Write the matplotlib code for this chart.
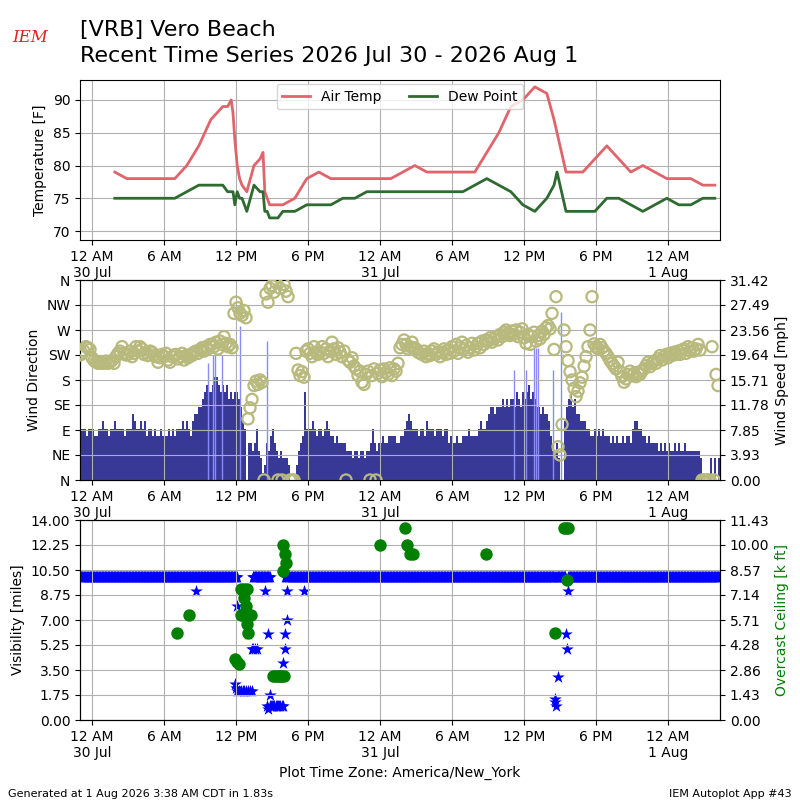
import numpy as np
import pandas as pd
import matplotlib
matplotlib.use('Agg')
import matplotlib.pyplot as plt
import matplotlib.dates as mdates
from matplotlib.ticker import FuncFormatter, FixedLocator, FixedFormatter

base = pd.Timestamp('2026-07-30 00:00')

# hourly-ish observations, hours after midnight 30 Jul
obs_hours = [1.9, 2.9, 3.9, 4.9, 5.9, 6.9, 7.9, 8.9, 9.9, 10.9, 11.3, 11.6, 11.75,
             11.9, 12.1, 12.3, 12.5, 12.9, 13.5, 14.0, 14.25, 14.4, 14.6, 14.8, 15.5,
             15.9, 16.9, 17.9, 18.9, 19.9, 20.9, 21.9, 22.9, 23.9, 24.9, 25.9, 26.9,
             27.9, 28.9, 29.9, 30.9, 31.9, 32.9, 33.9, 34.9, 35.9, 36.9, 37.9, 38.5,
             38.75, 39.5, 39.9, 40.9, 41.9, 42.9, 43.9, 44.9, 45.9, 46.9, 47.9, 48.9,
             49.9, 50.9, 51.9]
air_temp = [79, 78, 78, 78, 78, 78, 80, 83, 87, 89, 89, 90, 88,
            84, 80, 78, 77, 76, 80, 81, 82, 76, 75, 74, 74,
            74, 75, 78, 79, 78, 78, 78, 78, 78, 78, 79, 80,
            79, 79, 79, 79, 79, 82, 85, 89, 90, 92, 91, 87,
            85, 79, 79, 79, 81, 83, 81, 79, 80, 79, 78, 78,
            78, 77, 77]
dew_point = [75, 75, 75, 75, 75, 75, 76, 77, 77, 77, 76, 76, 76,
             74, 76, 75, 75, 73, 77, 76, 76, 73, 73, 72, 72,
             73, 73, 74, 74, 74, 75, 75, 76, 76, 76, 76, 76,
             76, 76, 76, 76, 77, 78, 77, 76, 74, 73, 75, 77,
             79, 73, 73, 73, 73, 75, 75, 74, 73, 74, 75, 74,
             74, 75, 75]

# one-minute wind sampled every 10 minutes, starting 11 PM 29 Jul
wind_knots = [
    7, 7, 7, 6, 7, 7,   7, 6, 6, 7, 7, 8,   7, 7, 6, 7, 7, 8,   7, 7, 7, 7, 6, 7,
    7, 7, 9, 8, 7, 7,   8, 7, 8, 6, 7, 7,   6, 7, 6, 6, 7, 6,   6, 6, 7, 6, 7, 6,
    7, 7, 7, 8, 7, 8,   7, 6, 8, 9, 9, 10,  10, 11, 12, 13, 12, 12,
    13, 14, 14, 13, 12, 13,   12, 13, 11, 12, 11, 12,   12, 11, 10, 8, 7, 0,
    5, 5, 4, 5, 7, 4,   3, 1, 2, 5, 4, 6,   7, 5, 4, 3, 4, 3,   3, 3, 2, 0, 0, 0,
    2, 4, 5, 6, 12, 7,  7, 7, 8, 7, 6, 7,   7, 6, 7, 8, 7, 6,   6, 5, 6, 5, 5, 5,
    5, 4, 4, 4, 3, 4,   4, 3, 4, 4, 3, 4,   4, 5, 7, 5, 4, 5,   5, 6, 5, 5, 6, 6,
    6, 6, 5, 5, 6, 6,   7, 8, 9, 8, 7, 7,   7, 6, 7, 7, 6, 8,   7, 7, 7, 6, 7, 7,
    7, 6, 7, 7, 5, 6,   5, 5, 6, 5, 5, 6,   6, 6, 7, 6, 6, 6,   6, 7, 8, 7, 7, 8,
    9, 10, 10, 9, 10, 10,   10, 11, 10, 11, 10, 11,   11, 10, 12, 11, 10, 12,
    11, 12, 13, 11, 12, 11,   10, 10, 9, 10, 9, 9,   8, 6, 4, 4, 5, 3,
    0, 0, 8, 10, 11, 12,   10, 11, 9, 9, 8, 8,   8, 7, 7, 6, 6, 7,   6, 7, 6, 7, 6, 6,
    6, 5, 6, 5, 6, 5,   5, 6, 5, 6, 6, 5,   7, 8, 8, 7, 7, 6,   6, 5, 6, 5, 5, 5,
    5, 4, 5, 4, 5, 4,   5, 4, 4, 5, 4, 5,   4, 4, 5, 4, 4, 4,   4, 4, 4, 4, 3, 0,
    0, 0, 0, 3, 0, 3,   0, 3]
wind_drct = [
    225, 228, 232, 240, 238, 235,   220, 215, 212, 210, 212, 210,
    210, 214, 210, 212, 215, 210,   222, 228, 232, 240, 228, 225,
    226, 232, 222, 228, 240, 232,   240, 236, 226, 230, 224, 232,
    230, 225, 222, 212, 220, 226,   222, 228, 216, 212, 222, 225,
    226, 218, 222, 228, 216, 224,   220, 226, 224, 230, 232, 228,
    234, 238, 232, 240, 236, 244,   244, 240, 248, 236, 250, 244,
    258, 246, 240, 244, 238, 300,   320, 310, 300, 296, 305, 292,
    110, 130, 145, 170, 178, 172,   180, 176, 0, 335, 320, 345,
    350, 338, 355, 0, 345, 0,       352, 340, 330, 0, 0, 0,
    228, 198, 188, 195, 185, 232,   236, 228, 222, 240, 230, 226,
    230, 240, 228, 236, 222, 232,   248, 236, 226, 238, 230, 222,
    232, 0, 216, 212, 220, 205,     200, 188, 196, 176, 172, 190,
    196, 0, 188, 200, 0, 192,       198, 186, 200, 194, 190, 202,
    188, 200, 196, 210, 238, 244,   252, 244, 236, 240, 248, 238,
    236, 230, 228, 226, 232, 222,   228, 224, 232, 236, 226, 230,
    222, 230, 236, 226, 234, 228,   240, 232, 244, 228, 238, 248,
    236, 242, 230, 238, 246, 234,   240, 246, 238, 250, 244, 252,
    250, 256, 248, 254, 258, 252,   262, 258, 266, 270, 264, 260,
    268, 262, 270, 258, 266, 272,   256, 246, 262, 244, 258, 266,
    250, 260, 254, 268, 262, 274,   278, 272, 300, 235, 330, 60,
    45, 100, 270, 240, 215, 195,    180, 165, 150, 160, 175, 185,
    205, 222, 240, 270, 330, 245,   240, 236, 244, 238, 232, 228,
    222, 215, 210, 205, 200, 212,   195, 186, 176, 182, 190, 196,
    188, 192, 186, 194, 190, 196,   200, 206, 212, 204, 210, 214,
    210, 218, 224, 216, 222, 226,   220, 228, 224, 230, 226, 232,
    226, 234, 236, 228, 240, 232,   238, 232, 236, 244, 234, 0,
    0, 0, 0, 0, 240, 0,             190, 170]

gust_hours = [9.7, 10.1, 10.25, 10.85, 12.3, 14.6, 35.2, 36.2, 36.8, 37.0, 37.2, 38.4, 39.1]
gust_knots = [16, 17, 17, 17, 21, 19, 15, 15, 18, 18, 18, 15, 23]

# periods with visibility reported at 10 miles (start, end hours)
vis10_runs = [(-1.0, 12.1), (13.4, 14.8), (16.1, 38.6), (38.7, 39.5), (39.7, 52.33)]
vis_hours = [8.65, 12.05, 11.95, 12.0, 12.1, 12.25, 12.4, 12.55, 12.7, 12.85, 13.0, 13.15,
             13.3, 13.0, 13.3, 13.45, 13.6, 13.75, 14.4, 14.7, 14.6, 14.7, 14.8, 14.9,
             15.0, 15.1, 15.2, 15.3, 15.4, 15.5, 15.6, 15.7, 15.8, 15.95, 14.8, 15.9,
             16.1, 16.1, 16.25, 16.25, 17.7, 38.6, 38.6, 38.65, 38.8, 39.5, 39.6, 39.7]
vis_miles = [9, 8, 2.5, 2.25, 2.0, 2.0, 2.0, 2.0, 2.0, 2.0, 2.0, 2.0,
             2.0, 6, 5, 5, 5, 5, 9, 6, 1.0, 0.75, 1.0, 1.0,
             1.0, 1.0, 1.0, 1.0, 1.0, 1.0, 1.0, 1.0, 1.0, 1.0, 1.75, 4,
             5, 6, 7, 9, 9, 1.5, 1.25, 1.0, 3, 6, 5, 9]

ceil_hours = [7.05, 8.1, 11.95, 12.1, 12.25, 12.4, 12.65, 12.9, 12.7, 12.8, 12.4, 12.6,
              12.8, 13.0, 13.25, 12.9, 13.0, 15.1, 15.25, 15.4, 15.55, 15.7, 15.85, 16.0,
              15.9, 16.1, 16.2, 15.9, 24.0, 26.1, 26.25, 26.5, 26.75, 32.8, 38.6, 39.3,
              39.5, 39.7, 39.6]
ceil_kft = [5.0, 6.0, 3.5, 3.3, 3.2, 7.5, 7.5, 7.5, 7.0, 6.5, 6.0, 6.0,
            6.0, 6.0, 6.0, 5.5, 5.0, 2.5, 2.5, 2.5, 2.5, 2.5, 2.5, 2.5,
            10.0, 9.5, 9.0, 8.5, 10.0, 11.0, 10.0, 9.5, 9.5, 9.5, 5.0, 11.0,
            11.0, 11.0, 8.0]

dir_labels = ['N', 'NE', 'E', 'SE', 'S', 'SW', 'W', 'NW', 'N']
spd_labels = ['0.00', '3.93', '7.85', '11.78', '15.71', '19.64', '23.56', '27.49', '31.42']
vis_labels = ['0.00', '1.75', '3.50', '5.25', '7.00', '8.75', '10.50', '12.25', '14.00']
ceil_labels = ['0.00', '1.43', '2.86', '4.28', '5.71', '7.14', '8.57', '10.00', '11.43']


def to_time(hours):
    return base + pd.to_timedelta(np.asarray(hours, dtype=float), unit='h')


def time_label(x, pos):
    d = mdates.num2date(x)
    hr = d.hour
    if hr == 0:
        return '12 AM\n%d %s' % (d.day, d.strftime('%b'))
    if hr == 12:
        return '12 PM'
    return '%d %s' % (hr % 12, 'AM' if hr < 12 else 'PM')


def style_time(ax):
    ax.xaxis.set_major_locator(mdates.HourLocator(byhour=[0, 6, 12, 18]))
    ax.xaxis.set_major_formatter(FuncFormatter(time_label))
    ax.set_xlim(to_time(-1.0), to_time(52.33))
    ax.grid(True, color='#b0b0b0', lw=0.8)


slot_times = base + pd.to_timedelta(-60 + 10 * np.arange(len(wind_knots)), unit='min')
wind_mph = np.array(wind_knots) * 1.15078
gust_mph = np.array(gust_knots) * 1.15078

fig = plt.figure(figsize=(8, 8), dpi=100)

fig.text(0.1, 0.9625, '[VRB] Vero Beach', fontsize=16, va='center', ha='left')
fig.text(0.1, 0.93, 'Recent Time Series 2026 Jul 30 - 2026 Aug 1', fontsize=16,
         va='center', ha='left')
fig.text(0.038, 0.953, 'IEM', color='#dd2222', fontsize=12, style='italic',
         family='DejaVu Serif', ha='center', va='center')
fig.text(0.01, 0.004, 'Generated at 1 Aug 2026 3:38 AM CDT in 1.83s', fontsize=8)
fig.text(0.99, 0.004, 'IEM Autoplot App #43', fontsize=8, ha='right')

# temperatures
ax1 = fig.add_axes([0.1, 0.7, 0.8, 0.2])
ax1.plot(to_time(obs_hours), air_temp, color='#e0646c', lw=2, label='Air Temp')
ax1.plot(to_time(obs_hours), dew_point, color='#2f6a31', lw=2, label='Dew Point')
ax1.set_ylim(68.63, 93.05)
ax1.set_yticks([70, 75, 80, 85, 90])
ax1.set_ylabel('Temperature [F]')
ax1.legend(loc='upper center', ncol=2, fontsize=10, borderaxespad=0.3)
style_time(ax1)

# wind
ax2 = fig.add_axes([0.1, 0.4, 0.8, 0.25])
ax2b = ax2.twinx()
ax2b.set_zorder(ax2.get_zorder() - 1)
ax2.patch.set_visible(False)
ax2b.vlines(to_time(gust_hours), 0, gust_mph, colors='#8a8aff', lw=1)
ax2b.bar(slot_times, wind_mph, width=1 / 144., align='edge', color='#383896', lw=0)
ax2b.set_ylim(0, 31.42)
ax2b.yaxis.set_major_locator(FixedLocator(np.linspace(0, 31.42, 9)))
ax2b.yaxis.set_major_formatter(FixedFormatter(spd_labels))
ax2b.set_ylabel('Wind Speed [mph]')
ax2.scatter(slot_times, wind_drct, s=65, facecolors='none', edgecolors='#b8b97c',
            linewidths=1.6, zorder=3)
ax2.set_ylim(0, 360)
ax2.yaxis.set_major_locator(FixedLocator(np.arange(0, 361, 45)))
ax2.yaxis.set_major_formatter(FixedFormatter(dir_labels))
ax2.set_ylabel('Wind Direction')
style_time(ax2)

# visibility and ceiling
ax3 = fig.add_axes([0.1, 0.1, 0.8, 0.25])
for start, end in vis10_runs:
    hrs = np.arange(start, end, 1 / 20.)
    ax3.scatter(to_time(hrs), [10.0] * len(hrs), marker='*', s=90, color='blue', lw=0)
ax3.scatter(to_time(vis_hours), vis_miles, marker='*', s=90, color='blue', lw=0)
ax3.set_ylim(0, 14)
ax3.yaxis.set_major_locator(FixedLocator(np.linspace(0, 14, 9)))
ax3.yaxis.set_major_formatter(FixedFormatter(vis_labels))
ax3.set_ylabel('Visibility [miles]')
ax3.set_xlabel('Plot Time Zone: America/New_York')
style_time(ax3)
ax3b = ax3.twinx()
ax3b.scatter(to_time(ceil_hours), ceil_kft, s=80, color='green', lw=0)
ax3b.set_ylim(0, 80 / 7.)
ax3b.yaxis.set_major_locator(FixedLocator(np.linspace(0, 80 / 7., 9)))
ax3b.yaxis.set_major_formatter(FixedFormatter(ceil_labels))
ax3b.set_ylabel('Overcast Ceiling [k ft]', color='green')

fig.savefig('out.png', dpi=100)
